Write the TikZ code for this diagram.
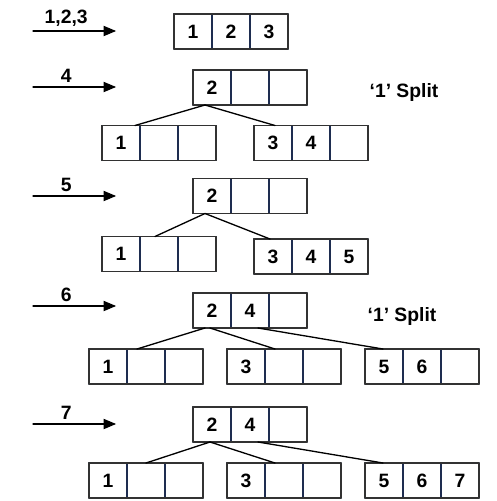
\documentclass[tikz,border=0pt]{standalone}
\usepackage{fontspec}
\setmainfont{Liberation Sans}
\usetikzlibrary{arrows,positioning,calc}
\definecolor{divline}{RGB}{30,45,80}
\definecolor{boxline}{RGB}{50,50,50}
\tikzset{
  cell/.style={draw=divline,line width=0.6pt,minimum width=0.76cm,minimum height=0.7cm,
    inner sep=0pt,outer sep=0pt,font=\fontsize{11}{13}\selectfont\bfseries},
  frame/.style={draw=boxline,line width=0.7pt},
  link/.style={line width=0.75pt},
  steplbl/.style={pos=0.4,above,inner sep=2pt,font=\fontsize{11}{13}\selectfont\bfseries},
  note/.style={font=\fontsize{11}{13}\selectfont\bfseries}
}
% three keys side by side
\newcommand{\keybox}[5]{%
  \node[cell] (#1a) at (#2) {#3};
  \node[cell,right=0pt of #1a] (#1b) {#4};
  \node[cell,right=0pt of #1b] (#1c) {#5};
  \draw[frame] (#1a.north west) rectangle (#1c.south east);}

\begin{document}
\begin{tikzpicture}[line cap=round,line join=round,>=triangle 45,x=0.02cm,y=-0.02cm]
      \useasboundingbox (0,0) rectangle (497,501);
      % insert 1,2,3
      \coordinate (s1) at (33,31);
      \coordinate (e1) at (116,31);
      \draw [->,line width=0.6pt] (s1) -- (e1) node[steplbl] {1,2,3};
      \keybox{top}{193,31.5}{1}{2}{3}
      % insert 4
      \coordinate (s2) at (33,87);
      \coordinate (e2) at (116,87);
      \draw [->,line width=0.6pt] (s2) -- (e2) node[steplbl] {4};
      \keybox{rootB}{212,87.5}{2}{}{}
      \keybox{leftB}{121,143}{1}{}{}
      \keybox{rightB}{273,143}{3}{4}{}
      \node[note] (splitB) at (404,92) {‘1’ Split};
      \draw [link] ($(rootBa.south)+(-7,0)$) -- ($(leftBa.north)+(14,0)$);
      \draw [link] ($(rootBa.south)+(-7,0)$) -- ($(rightBa.north)+(2,0)$);
      % insert 5
      \coordinate (s3) at (33,196);
      \coordinate (e3) at (116,196);
      \draw [->,line width=0.6pt] (s3) -- (e3) node[steplbl] {5};
      \keybox{rootC}{212,196}{2}{}{}
      \keybox{leftC}{121,254}{1}{}{}
      \keybox{rightC}{273,256.5}{3}{4}{5}
      \draw [link] ($(rootCa.south)+(-7,0)$) -- ($(leftCb.north)+(-4,0)$);
      \draw [link] ($(rootCa.south)+(-7,0)$) -- ($(rightCa.north)+(-3,0)$);
      % insert 6
      \coordinate (s4) at (33,306);
      \coordinate (e4) at (116,306);
      \draw [->,line width=0.6pt] (s4) -- (e4) node[steplbl] {6};
      \keybox{rootD}{212,310.5}{2}{4}{}
      \keybox{leftD}{108,366.5}{1}{}{}
      \keybox{midD}{246,366.5}{3}{}{}
      \keybox{rightD}{384,366.5}{5}{6}{}
      \node[note] (splitD) at (402,316) {‘1’ Split};
      \draw [link] ($(rootDa.south)+(-7,0)$) -- ($(leftDb.north)+(-9,0)$);
      \draw [link] ($(rootDa.south)+(-2,0)$) -- ($(midDb.north)+(-9,0)$);
      \draw [link] ($(rootDb.south)+(8,0)$) -- ($(rightDa.north)+(-1,0)$);
      % insert 7
      \coordinate (s5) at (33,424);
      \coordinate (e5) at (116,424);
      \draw [->,line width=0.6pt] (s5) -- (e5) node[steplbl] {7};
      \keybox{rootE}{212,424.5}{2}{4}{}
      \keybox{leftE}{108,480.5}{1}{}{}
      \keybox{midE}{246,480.5}{3}{}{}
      \keybox{rightE}{384,480.5}{5}{6}{7}
      \draw [link] ($(rootEa.south)+(-2,0)$) -- (leftEb.north);
      \draw [link] ($(rootEa.south)+(-2,0)$) -- ($(midEb.north)+(-9,0)$);
      \draw [link] ($(rootEb.south)+(8,0)$) -- ($(rightEa.north)+(-1,0)$);
\end{tikzpicture}
\end{document}
